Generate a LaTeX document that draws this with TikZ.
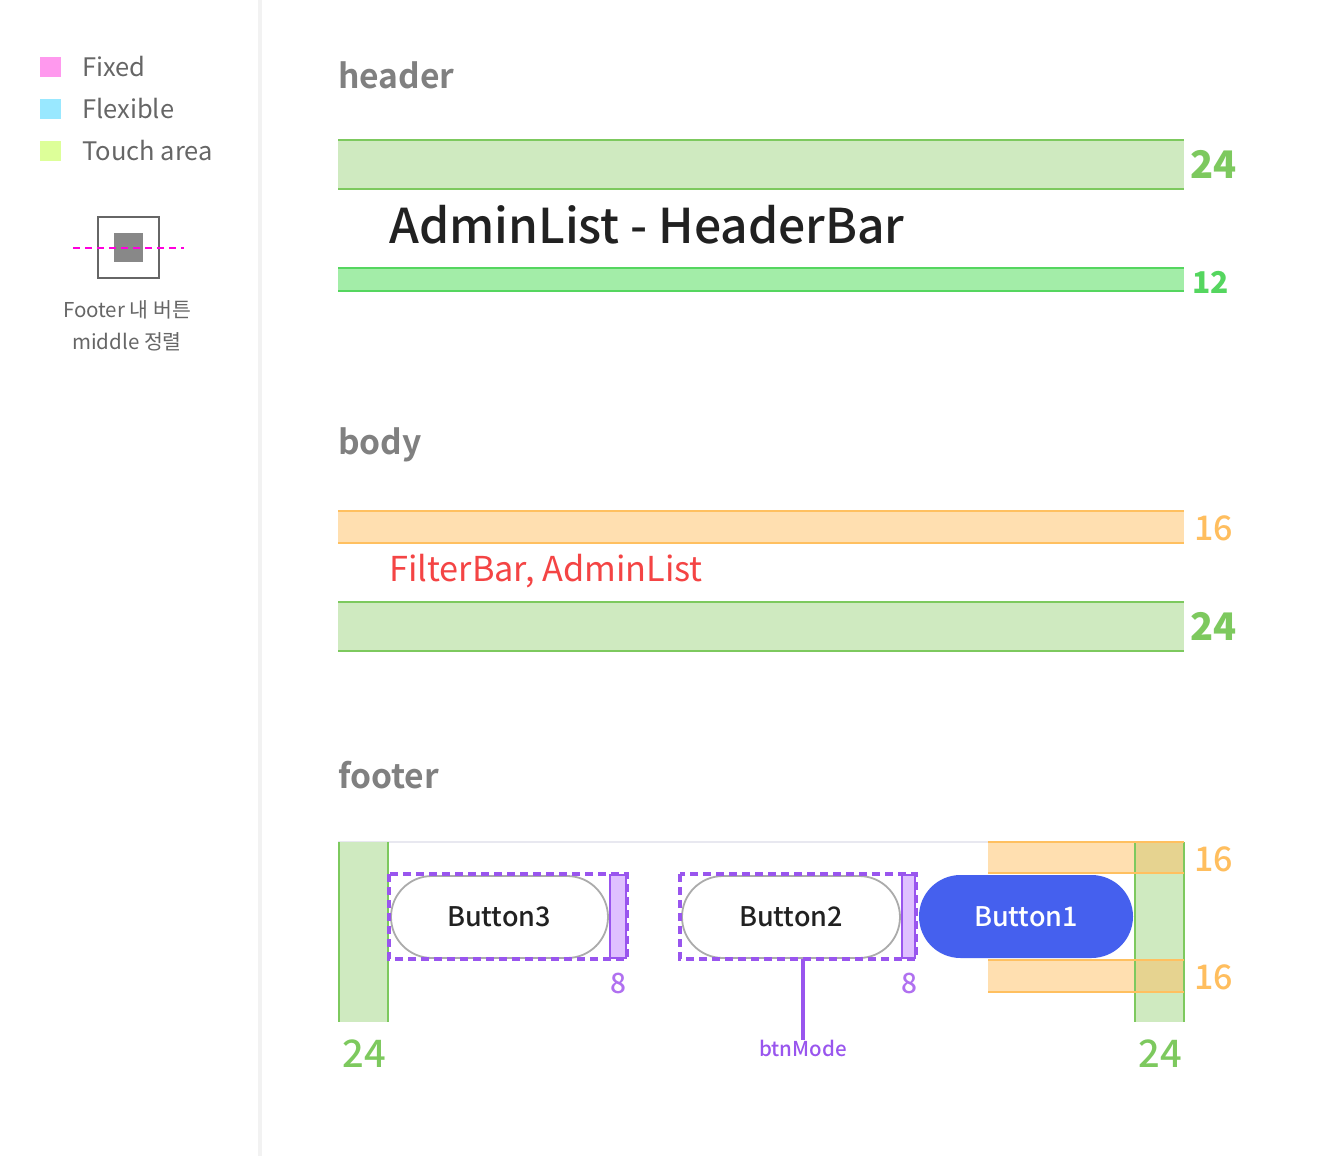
\documentclass[tikz,border=0pt]{standalone}
\usepackage{fontspec}
\setmainfont{Noto Sans CJK KR}
\IfFontExistsTF{Noto Sans CJK KR Medium}
  {\newfontfamily\medfont{Noto Sans CJK KR Medium}\def\medsz{1}}
  {\newfontfamily\medfont{Noto Sans CJK KR}[FakeBold=1.4]\def\medsz{0}}
\IfFontExistsTF{Noto Sans SemiBold}
  {\newfontfamily\semifont{Noto Sans SemiBold}\def\semisz{35.6}}
  {\newfontfamily\semifont{Noto Sans CJK KR Bold}\def\semisz{33.6}}
\usetikzlibrary{positioning}
\definecolor{tgreen}{HTML}{CFEAC0}
\definecolor{tgreenl}{HTML}{7DC95E}
\definecolor{hgreen}{HTML}{A3EDA8}
\definecolor{hgreenl}{HTML}{55D65F}
\definecolor{orng}{HTML}{FFDFB0}
\definecolor{orngl}{HTML}{FFC060}
\definecolor{orngt}{HTML}{FFBE5E}
\definecolor{ovl}{HTML}{E6D390}
\definecolor{purp}{HTML}{9955EE}
\definecolor{purpf}{HTML}{DFC0FF}
\definecolor{purpt}{HTML}{B070F0}
\definecolor{btnblue}{HTML}{4560EE}
\definecolor{ttl}{HTML}{808080}
\definecolor{legtxt}{HTML}{666666}
\definecolor{redt}{HTML}{F44444}
\definecolor{lpink}{HTML}{FF99EE}
\definecolor{lcyan}{HTML}{99E8FF}
\definecolor{llime}{HTML}{DDFF99}
\definecolor{igray}{HTML}{888888}
\definecolor{magen}{HTML}{FF00DD}
\definecolor{fline}{HTML}{E8E8F0}
\tikzset{
  sectitle/.style={anchor=west,inner sep=0pt,font=\semifont\fontsize{\semisz}{40}\selectfont,text=ttl},
  legtext/.style={anchor=west,inner sep=0pt,font=\fontsize{25.5}{30}\selectfont,text=legtxt},
  numlbl/.style={anchor=west,inner sep=0pt},
  pill/.style={rounded corners=41pt,draw=black!33,line width=1.8pt,fill=white},
  dashbox/.style={draw=purp,dash pattern=on 8pt off 5pt,line width=3.4pt},
  btntext/.style={font=\medfont\fontsize{27}{30}\selectfont,text=black!87},
}
\begin{document}
\begin{tikzpicture}[x=1pt,y=-1pt]
\useasboundingbox (0,0) rectangle (1328,1156);
\fill[white] (0,0) rectangle (1328,1156);
% divider
\fill[black!5] (258,0) rectangle (262,1156);
% legend
\fill[lpink] (40,57) rectangle (61,77);
\fill[lcyan] (40,99) rectangle (61,119);
\fill[llime] (40,141) rectangle (61,161);
\node[legtext] (lfixed) at (82,67) {Fixed};
\node[legtext] (lflex) at (82,109) {Flexible};
\node[legtext] (ltouch) at (82,151) {Touch area};
\draw[draw=legtxt,line width=2.2pt] (98,217) rectangle (159,278);
\fill[igray] (114,233) rectangle (143,262);
\draw[magen,line width=2.4pt,dash pattern=on 7pt off 5pt] (73,248) -- (184,248);
\node[font=\fontsize{20.5}{32}\selectfont,text=legtxt,align=center,inner sep=0pt] (lfooter) at (127,326) {Footer 내 버튼\\middle 정렬};
% header
\node[sectitle] (theader) at (338,75) {header};
\fill[tgreen] (338,140) rectangle (1184,189);
\draw[tgreenl,line width=2pt] (338,140) -- (1184,140) (338,189) -- (1184,189);
\node[numlbl,font=\fontsize{38}{40}\selectfont\bfseries,text=tgreenl] (h24) at (1190,164) {24};
\node[anchor=west,inner sep=0pt,font=\medfont\fontsize{48}{56}\selectfont,text=black!87] (htitle) at (389,225) {AdminList - HeaderBar};
\fill[hgreen] (338,268) rectangle (1184,291);
\draw[hgreenl,line width=2pt] (338,268) -- (1184,268) (338,291) -- (1184,291);
\node[numlbl,font=\fontsize{30}{34}\selectfont\bfseries,text=hgreenl] (h12) at (1192,282) {12};
% body
\node[sectitle] (tbody) at (338,445) {body};
\fill[orng] (338,511) rectangle (1184,543);
\draw[orngl,line width=2pt] (338,511) -- (1184,511) (338,543) -- (1184,543);
\node[numlbl,font=\medfont\fontsize{34}{38}\selectfont,text=orngt] (b16) at (1194,528) {16};
\node[anchor=west,inner sep=0pt,font=\fontsize{34.3}{40}\selectfont,text=redt] (btext) at (389,571) {FilterBar, AdminList};
\fill[tgreen] (338,602) rectangle (1184,651);
\draw[tgreenl,line width=2pt] (338,602) -- (1184,602) (338,651) -- (1184,651);
\node[numlbl,font=\fontsize{38}{40}\selectfont\bfseries,text=tgreenl] (b24) at (1190,626) {24};
% footer
\node[sectitle] (tfooter) at (338,775) {footer};
\draw[fline,line width=2pt] (338,842) -- (1184,842);
% left touch column
\fill[tgreen] (339,842) rectangle (388,1022);
\draw[tgreenl,line width=2pt] (339,842) -- (339,1022) (388,842) -- (388,1022);
\node[font=\medfont\fontsize{38}{40}\selectfont,text=tgreenl,inner sep=0pt] (f24l) at (364,1054) {24};
% right touch column + orange
\fill[tgreen] (1135,842) rectangle (1184,1022);
\fill[orng] (988,842) rectangle (1184,873);
\fill[orng] (988,960) rectangle (1184,992);
\fill[ovl] (1135,842) rectangle (1184,873);
\fill[ovl] (1135,960) rectangle (1184,992);
\draw[tgreenl,line width=2pt] (1135,842) -- (1135,1022) (1184,842) -- (1184,1022);
\draw[orngl,line width=2pt] (988,842) -- (1184,842) (988,873) -- (1184,873) (988,960) -- (1184,960) (988,992) -- (1184,992);
\node[numlbl,font=\medfont\fontsize{34}{38}\selectfont,text=orngt] (f16a) at (1194,859) {16};
\node[numlbl,font=\medfont\fontsize{34}{38}\selectfont,text=orngt] (f16b) at (1194,977) {16};
\node[font=\medfont\fontsize{38}{40}\selectfont,text=tgreenl,inner sep=0pt] (f24r) at (1160,1054) {24};
% button3
\draw[pill] (391,876) rectangle (608,958);
\node[btntext] (b3) at (499,917) {Button3};
\filldraw[fill=purpf,draw=purp,line width=1.8pt] (610,875) rectangle (626,958);
\draw[dashbox] (389,874) rectangle (627,959);
\node[font=\medfont\fontsize{28}{30}\selectfont,text=purpt,inner sep=0pt] (n8a) at (618,983) {8};
% button2
\draw[pill] (682,876) rectangle (900,958);
\node[btntext] (b2) at (791,917) {Button2};
\filldraw[fill=purpf,draw=purp,line width=1.8pt] (902,875) rectangle (915,958);
\draw[dashbox] (680,874) rectangle (916,959);
\coordinate (b2bot) at (803,959);
\node[font=\medfont\fontsize{28}{30}\selectfont,text=purpt,inner sep=0pt] (n8b) at (909,983) {8};
\node[font=\medfont\fontsize{20.5}{24}\selectfont,text=purp,inner sep=0pt,anchor=north] (bmode) at (803,1040) {btnMode};
\draw[purp,line width=3.4pt] (b2bot) -- (bmode.north);
% button1
\fill[btnblue,rounded corners=41.5pt] (919,875) rectangle (1133,958);
\node[btntext,text=white] (b1) at (1026,917) {Button1};
\end{tikzpicture}
\end{document}
